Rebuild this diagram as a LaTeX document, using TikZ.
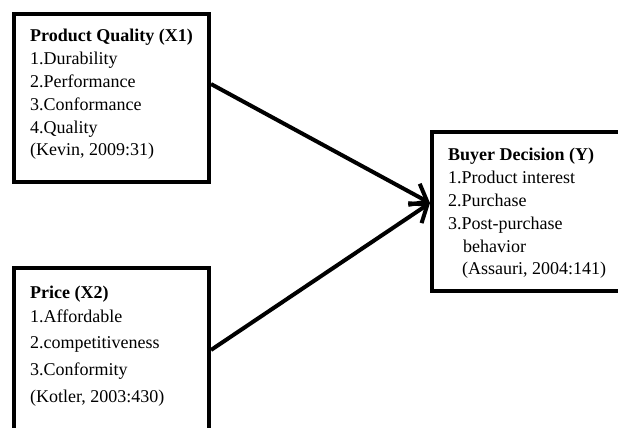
\documentclass[tikz,border=0pt]{standalone}
\usepackage{fontspec}
\setmainfont{Liberation Serif}
\usetikzlibrary{arrows.meta}
\begin{document}
\begin{tikzpicture}[x=1pt,y=-1pt,
  box/.style={draw, line width=4pt, inner sep=0pt},
  txt/.style={anchor=north west, align=left, inner sep=0pt, font=\fontsize{18}{22.8}\selectfont},
  link/.style={line width=4pt, -{Straight Barb[length=15pt,width=24pt]}}]
\path[use as bounding box] (0,0) rectangle (618,428);

\node[box, minimum width=195pt, minimum height=168pt] (qual) at (111.5,98) {};
\node[txt] (qualt) at (30,29.3) {\textbf{Product Quality (X1)}\\1.Durability\\2.Performance\\3.Conformance\\4.Quality\\(Kevin, 2009:31)};

\node[box, minimum width=195pt, minimum height=164pt] (price) at (111.5,350) {};
\node[txt, font=\fontsize{18}{26.7}\selectfont] (pricet) at (30,285.9) {\textbf{Price (X2)}\\[-3.2pt]1.Affordable\\2.competitiveness\\3.Conformity\\(Kotler, 2003:430)};

\node[box, minimum width=400pt, minimum height=159pt, anchor=west] (dec) at (430,211.5) {};
\node[txt] (dect) at (448,148.3) {\textbf{Buyer Decision (Y)}\\1.Product interest\\2.Purchase\\3.Post-purchase\\\hspace*{15pt}behavior\\\hspace*{14pt}(Assauri, 2004:141)};

\coordinate (tip) at ([yshift=8.5pt]dec.west);
\draw[link] (qual.8.7) -- (tip);
\draw[link] (price.east) -- (tip);
\end{tikzpicture}
\end{document}
